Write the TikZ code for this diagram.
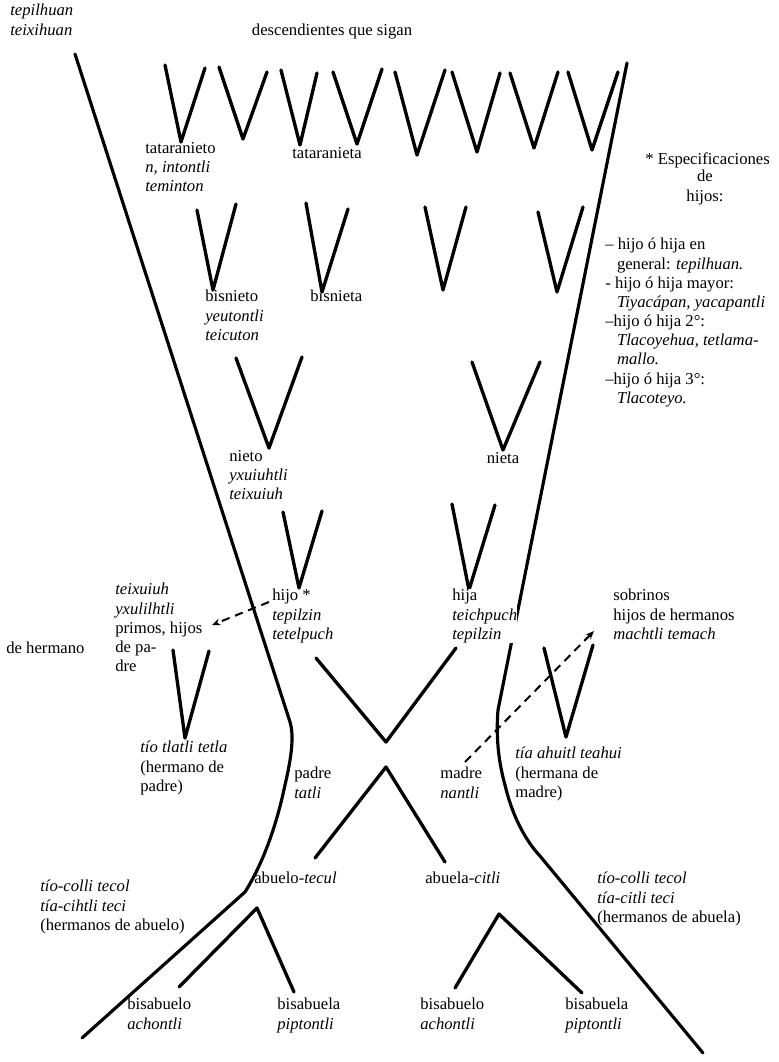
\documentclass[tikz,border=0pt]{standalone}
\usepackage{fontspec}
\setmainfont{Liberation Serif}
\usetikzlibrary{arrows.meta}
\newcommand\lblfont{\fontsize{10}{11.5}\selectfont}
\begin{document}
\begin{tikzpicture}[x=0.6pt,y=-0.6pt,
  arm/.style={line width=2pt, line join=round, line cap=round},
  trunk/.style={line width=1.9pt, line join=round, line cap=round},
  lbl/.style={anchor=north west, inner sep=0pt, align=left, font=\lblfont},
  clbl/.style={anchor=north, inner sep=0pt, align=center, font=\lblfont},
  dasharrow/.style={line width=1.2pt, dash pattern=on 5pt off 3.5pt, -{Stealth[length=5pt,width=4pt]}}]
\useasboundingbox (0,0) rectangle (779,1062);

% trunks
\draw[trunk] (75,54) -- (290,722) .. controls (294,735) and (292,755) .. (285,785)
  .. controls (276,828) and (262,865) .. (245,892) -- (82,1038);
\draw[trunk] (627,63) -- (498,710) .. controls (496,735) and (498,760) .. (505,785)
  .. controls (512,815) and (525,840) .. (540,856) -- (703,1053);

% great-great-grandchildren
\draw[arm] (165,65) -- (181,142) -- (205,68);
\draw[arm] (219,67) -- (243,139) -- (267,72);
\draw[arm] (281,70) -- (300,145) -- (317,73);
\draw[arm] (333,72) -- (357,144) -- (382,69);
\draw[arm] (395,72) -- (417,155) -- (445,70);
\draw[arm] (452,72) -- (477,152) -- (500,73);
\draw[arm] (510,73) -- (534,148) -- (558,72);
\draw[arm] (568,72) -- (592,150) -- (618,72);
% great-grandchildren
\draw[arm] (197,210) -- (213,290) -- (236,204);
\draw[arm] (306,203) -- (322,292) -- (348,209);
\draw[arm] (425,207) -- (443,290) -- (466,207);
\draw[arm] (538,212) -- (557,292) -- (583,207);
% grandchildren
\draw[arm] (236,358) -- (269,448) -- (302,357);
\draw[arm] (472,362) -- (503,450) -- (540,362);
% children
\draw[arm] (283,512) -- (299,588) -- (322,511);
\draw[arm] (452,504) -- (469,590) -- (495,505);
% X
\draw[arm] (316,658) -- (386,742) -- (456,648);
\draw[arm] (315,858) -- (386,767) -- (445,862);
% great-grandparents
\draw[arm] (179,987) -- (257,908) -- (294,992);
\draw[arm] (455,988) -- (499,914) -- (582,993);
% uncle / aunt
\draw[arm] (173,650) -- (185,738) -- (209,651);
\draw[arm] (544,648) -- (566,737) -- (593,645);

% labels
\node[lbl, font=\lblfont\itshape] (top) at (10,4) {tepilhuan\\teixihuan};
\node[clbl] (desc) at (332,24) {descendientes que sigan};
\node[lbl] (ttn) at (145,142) {tataranieto\\\textit{n, intontli}\\\textit{teminton}};
\node[lbl] (tta) at (292,147) {tataranieta};
\node[lbl] (esp) at (645,152) {* Especificaciones};
\node[clbl] (de) at (705,170) {de\\hijos:};
\node[lbl] (list) at (605,238) {-- hijo ó hija en\\
  \hspace{7pt}general: \textit{tepilhuan.}\\
  - hijo ó hija mayor:\\
  \hspace{7pt}\textit{Tiyacápan, yacapantli}\\
  --hijo ó hija 2°:\\
  \hspace{7pt}\textit{Tlacoyehua, tetlama-}\\
  \hspace{7pt}\textit{mallo.}\\
  --hijo ó hija 3°:\\
  \hspace{7pt}\textit{Tlacoteyo.}};
\node[lbl] (bsn) at (205,290) {bisnieto\\\textit{yeutontli}\\\textit{teicuton}};
\node[lbl] (bsa) at (310,290) {bisnieta};
\node[lbl] (nto) at (229,450) {nieto\\\textit{yxuiuhtli}\\\textit{teixuiuh}};
\node[clbl] (nta) at (503,452) {nieta};
\node[lbl] (hijo) at (272,589) {hijo *\\\textit{tepilzin}\\\textit{tetelpuch}};
\node[lbl, fill=white] (hija) at (452,589) {hija\\\textit{teichpuch}\\\textit{tepilzin}};
\node[lbl] (primos) at (115,583) {\textit{teixuiuh}\\\textit{yxulilhtli}\\primos, hijos\\de pa-\\dre};
\node[lbl] (deh) at (6,642) {de hermano};
\node[lbl] (tio) at (140,741) {\textit{tío tlatli tetla}\\(hermano de\\padre)};
\node[lbl] (padre) at (294,767) {padre\\\textit{tatli}};
\node[lbl] (madre) at (440,767) {madre\\\textit{nantli}};
\node[lbl] (tia) at (515,747) {\textit{tía ahuitl teahui}\\(hermana de\\madre)};
\node[lbl] (sobr) at (613,589) {sobrinos\\hijos de hermanos\\\textit{machtli temach}};
\node[lbl] (abuelo) at (254,872) {abuelo-\textit{tecul}};
\node[lbl] (abuela) at (425,872) {abuela-\textit{citli}};
\node[lbl] (tiosL) at (40,880) {\textit{tío-colli tecol}\\\textit{tía-cihtli teci}\\(hermanos de abuelo)};
\node[lbl] (tiosR) at (597,872) {\textit{tío-colli tecol}\\\textit{tía-citli teci}\\(hermanos de abuela)};
\node[lbl] (bb1) at (127,998) {bisabuelo\\\textit{achontli}};
\node[lbl] (bb2) at (277,998) {bisabuela\\\textit{piptontli}};
\node[lbl] (bb3) at (420,998) {bisabuelo\\\textit{achontli}};
\node[lbl] (bb4) at (565,998) {bisabuela\\\textit{piptontli}};

% dashed arrows
\coordinate (a1s) at (269,602);
\coordinate (a1e) at (212,625);
\draw[dasharrow] (a1s) -- (a1e);
\coordinate (a2s) at (465,762);
\coordinate (a2e) at (594,631);
\draw[dasharrow] (a2s) -- (a2e);
\end{tikzpicture}
\end{document}
